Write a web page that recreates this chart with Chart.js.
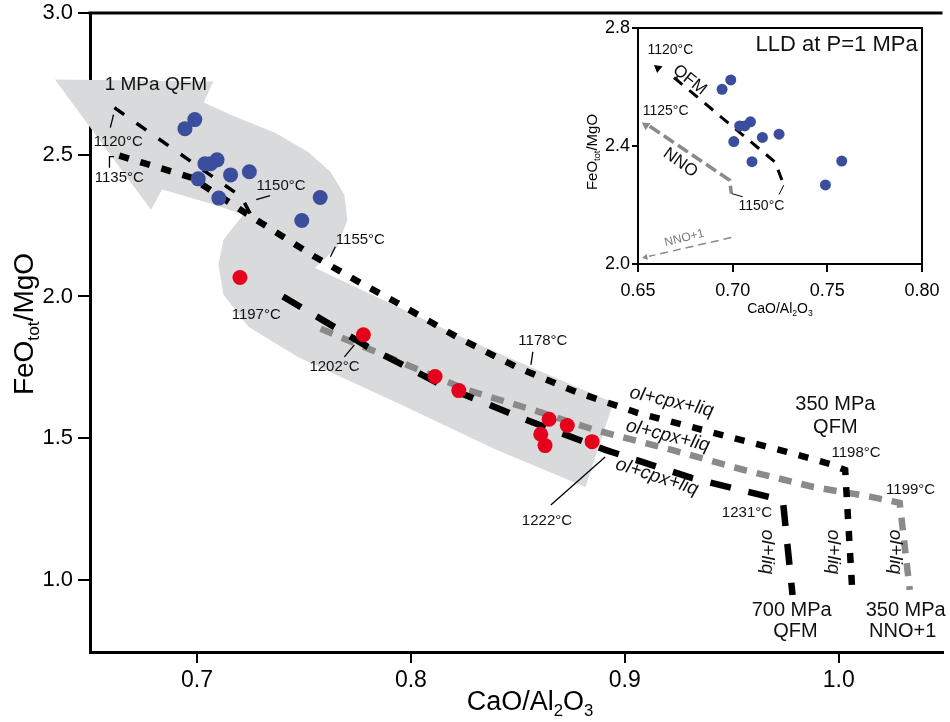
<!DOCTYPE html>
<html>
<head>
<meta charset="utf-8">
<script src="https://cdn.jsdelivr.net/npm/chart.js@4.4.0/dist/chart.umd.min.js"></script>
<style>
  html, body { margin: 0; padding: 0; background: #fff; }
  #wrap { position: relative; width: 950px; height: 722px; overflow: hidden; }
  #main { position: absolute; left: 0; top: 0; }
  #inset { position: absolute; left: 570px; top: 20px; }
</style>
</head>
<body>
<div id="wrap">
  <canvas id="main" width="950" height="722"></canvas>
  <canvas id="inset" width="370" height="300"></canvas>
</div>
<script>
// glass analyses, 1 MPa experiments (blue) and the other run products (red)
const blueX = [0.6944, 0.699, 0.7006, 0.7037, 0.7064, 0.7094, 0.7102, 0.7157, 0.7245, 0.749, 0.7576];
const blueY = [2.592, 2.624, 2.415, 2.468, 2.468, 2.482, 2.347, 2.429, 2.440, 2.268, 2.349];
const redX = [0.7201, 0.7778, 0.8113, 0.8224, 0.8646, 0.8731, 0.8607, 0.8627, 0.8847];
const redY = [2.067, 1.865, 1.718, 1.668, 1.567, 1.545, 1.514, 1.474, 1.488];

// liquid lines of descent
const qfm1X = [0.6614, 0.7207, 0.7249];
const qfm1Y = [2.666, 2.352, 2.292];
const qfm350X = [0.6637, 0.6975, 0.724, 0.7549, 0.7764, 0.7935, 0.8213, 0.8491, 0.877, 0.9062, 0.9451, 0.9757, 0.9961, 1.003, 1.0063];
const qfm350Y = [2.497, 2.419, 2.288, 2.141, 2.048, 1.978, 1.858, 1.752, 1.664, 1.589, 1.512, 1.452, 1.409, 1.388, 0.965];
const qfm700X = [0.7402, 0.7796, 0.8158, 0.8538, 0.8909, 0.9312, 0.9696, 0.974, 0.9784];
const qfm700Y = [2.0, 1.8235, 1.682, 1.565, 1.459, 1.360, 1.289, 1.272, 0.947];
const nno350X = [0.7578, 0.7903, 0.826, 0.857, 0.8862, 0.9219, 0.9558, 0.9882, 1.0146, 1.0285, 1.0332];
const nno350Y = [1.886, 1.7836, 1.6707, 1.600, 1.529, 1.459, 1.388, 1.328, 1.294, 1.272, 0.965];

// grey trend arrow outline
const bandX = [0.6336, 0.7077, 0.7031, 0.7179, 0.7365, 0.7518, 0.7624, 0.7689, 0.7703, 0.7657, 0.7551, 0.8246, 0.8946, 0.8816, 0.8399, 0.7935, 0.7471, 0.7241, 0.7124, 0.7100, 0.7124, 0.7179, 0.7217, 0.7087, 0.6837, 0.6785];
const bandY = [2.765, 2.758, 2.684, 2.634, 2.578, 2.511, 2.440, 2.359, 2.271, 2.175, 2.101, 1.854, 1.625, 1.328, 1.459, 1.625, 1.787, 1.893, 2.006, 2.112, 2.200, 2.253, 2.288, 2.323, 2.377, 2.306];

// inset lines (1 MPa)
const inQfmX = [0.669, 0.7225, 0.727];
const inQfmY = [2.632, 2.345, 2.267];
const inNnoX = [0.6562, 0.6984, 0.6993];
const inNnoY = [2.467, 2.284, 2.239];
const inNno1X = [0.6993, 0.6558];
const inNno1Y = [2.0898, 2.026];

const xTicks = [0.7, 0.8, 0.9, 1.0];
const yTicks = [1.0, 1.5, 2.0, 2.5, 3.0];
const inXTicks = [0.65, 0.70, 0.75, 0.80];
const inYTicks = [2.0, 2.4, 2.8];

const FONT = "'Liberation Sans', Arial, sans-serif";

function pts(xs, ys) { return xs.map((x, i) => ({ x: x, y: ys[i] })); }

function seg(xs, ys, color, width, dash) {
  return {
    data: pts(xs, ys), showLine: true, pointRadius: 0, borderColor: color,
    borderWidth: width, borderDash: dash, borderCapStyle: 'butt', tension: 0
  };
}

function dots(xs, ys, color, r) {
  return { data: pts(xs, ys), showLine: false, pointRadius: r, backgroundColor: color, borderWidth: 0 };
}

function drawRich(ctx, parts, x, y, size, rot, family, color) {
  ctx.save();
  ctx.translate(x, y);
  ctx.rotate(rot * Math.PI / 180);
  ctx.fillStyle = color || '#000';
  ctx.textBaseline = 'middle';
  ctx.textAlign = 'left';
  let w = 0;
  parts.forEach(p => {
    ctx.font = (p.sub ? size * 0.62 : size) + 'px ' + family;
    w += ctx.measureText(p.t).width;
  });
  let cx = -w / 2;
  parts.forEach(p => {
    const s = p.sub ? size * 0.62 : size;
    ctx.font = s + 'px ' + family;
    ctx.fillText(p.t, cx, p.sub ? size * 0.32 : 0);
    cx += ctx.measureText(p.t).width;
  });
  ctx.restore();
}

// text annotations, placed in data units
const notes = [
  { t: '1 MPa QFM', x: 0.6808, y: 2.7473, s: 19 },
  { t: '1120°C', x: 0.6632, y: 2.546, s: 15 },
  { t: '1135°C', x: 0.6637, y: 2.419, s: 15 },
  { t: '1150°C', x: 0.7393, y: 2.3896, s: 15 },
  { t: '1155°C', x: 0.7764, y: 2.2001, s: 15 },
  { t: '1197°C', x: 0.7277, y: 1.9354, s: 15 },
  { t: '1202°C', x: 0.7643, y: 1.7519, s: 15 },
  { t: '1178°C', x: 0.8617, y: 1.8436, s: 15 },
  { t: '1222°C', x: 0.8636, y: 1.2083, s: 15 },
  { t: '1231°C', x: 0.9571, y: 1.2365, s: 15 },
  { t: '1198°C', x: 1.0081, y: 1.4483, s: 15 },
  { t: '1199°C', x: 1.0336, y: 1.3177, s: 15 },
  { t: '350 MPa', x: 0.9984, y: 1.6177, s: 20 },
  { t: 'QFM', x: 0.9984, y: 1.5365, s: 20 },
  { t: '700 MPa', x: 0.978, y: 0.8941, s: 20 },
  { t: 'QFM', x: 0.9798, y: 0.82, s: 20 },
  { t: '350 MPa', x: 1.0313, y: 0.8941, s: 20 },
  { t: 'NNO+1', x: 1.0299, y: 0.82, s: 20 },
  { t: 'ol+cpx+liq', x: 0.9219, y: 1.6283, s: 19, r: 13, it: true },
  { t: 'ol+cpx+liq', x: 0.9201, y: 1.5083, s: 19, r: 14, it: true },
  { t: 'ol+cpx+liq', x: 0.915, y: 1.3636, s: 19, r: 18, it: true },
  { t: 'ol+liq', x: 0.9664, y: 1.0988, s: 19, r: 90, it: true },
  { t: 'ol+liq', x: 0.9974, y: 1.0988, s: 19, r: 90, it: true },
  { t: 'ol+liq', x: 1.0262, y: 1.0988, s: 19, r: 90, it: true }
];

const inNotes = [
  { t: 'LLD at P=1 MPa', x: 0.7977, y: 2.742, s: 22, a: 'right' },
  { t: '1120°C', x: 0.6671, y: 2.725, s: 14 },
  { t: '1125°C', x: 0.6646, y: 2.519, s: 14 },
  { t: 'QFM', x: 0.6773, y: 2.624, s: 17, r: 39 },
  { t: 'NNO', x: 0.6724, y: 2.343, s: 17, r: 36 },
  { t: '1150°C', x: 0.7152, y: 2.197, s: 14 },
  { t: 'NNO+1', x: 0.6745, y: 2.088, s: 12, r: -14, c: '#777' }
];

function noteDrawer(list) {
  return function (chart) {
    const ctx = chart.ctx, xs = chart.scales.x, ys = chart.scales.y;
    list.forEach(n => {
      ctx.save();
      ctx.translate(xs.getPixelForValue(n.x), ys.getPixelForValue(n.y));
      ctx.rotate((n.r || 0) * Math.PI / 180);
      ctx.font = (n.it ? 'italic ' : '') + n.s + 'px ' + FONT;
      ctx.fillStyle = n.c || '#111';
      ctx.textAlign = n.a || 'center';
      ctx.textBaseline = 'middle';
      ctx.fillText(n.t, 0, 0);
      ctx.restore();
    });
  };
}

const thin = '#000';
const mainLeaders = [
  seg([0.6595, 0.6610], [2.5955, 2.6413], thin, 1.3, []),
  seg([0.6591, 0.6591, 0.6612], [2.4543, 2.4931, 2.4931], thin, 1.3, []),
  seg([0.7277, 0.7342], [2.3413, 2.3555], thin, 1.3, []),
  seg([0.7624, 0.7647], [2.140, 2.1755], thin, 1.3, []),
  seg([0.7736, 0.7689], [1.8295, 1.787], thin, 1.3, []),
  seg([0.857, 0.8561], [1.8048, 1.7589], thin, 1.3, []),
  seg([0.8908, 0.8654], [1.4342, 1.2647], thin, 1.3, [])
];

new Chart(document.getElementById('main').getContext('2d'), {
  type: 'scatter',
  data: {
    datasets: [
      dots(blueX, blueY, '#3b4e9d', 7.5),
      dots(redX, redY, '#e5001c', 7.5),
      seg(qfm1X, qfm1Y, '#000', 3.5, [12, 15]),
      seg(qfm350X, qfm350Y, '#000', 6.5, [10, 12]),
      seg(qfm700X, qfm700Y, '#000', 6.5, [21, 18]),
      seg(nno350X, nno350Y, '#8a8a8a', 6.5, [13, 10])
    ].concat(mainLeaders)
  },
  options: {
    responsive: false,
    animation: false,
    events: [],
    layout: { padding: { top: 13, left: 0, right: 0, bottom: 0 } },
    plugins: { legend: { display: false }, tooltip: { enabled: false } },
    scales: {
      x: {
        type: 'linear', min: 0.65, max: 1.0485, z: 1,
        border: { color: '#000', width: 3 },
        grid: { drawOnChartArea: false, tickLength: 11, color: '#000', lineWidth: 2 },
        ticks: { color: '#000', padding: 4, font: { family: "'Liberation Sans Narrow', 'Liberation Sans', Arial", size: 23 },
                 callback: v => v.toFixed(1) },
        afterBuildTicks: s => { s.ticks = xTicks.map(v => ({ value: v })); },
        afterFit: s => { s.height = 70; s.paddingLeft = 0; s.paddingRight = 0; }
      },
      y: {
        type: 'linear', min: 0.746, max: 3.0, z: 1,
        border: { color: '#000', width: 3 },
        grid: { drawOnChartArea: false, tickLength: 12, color: '#000', lineWidth: 2 },
        ticks: { color: '#000', padding: 5, font: { family: FONT, size: 22 },
                 callback: v => v.toFixed(1) },
        afterBuildTicks: s => { s.ticks = yTicks.map(v => ({ value: v })); },
        afterFit: s => { s.width = 90; s.paddingTop = 0; s.paddingBottom = 0; }
      }
    }
  },
  plugins: [{
    id: 'band',
    beforeDatasetsDraw(chart) {
      const ctx = chart.ctx, xs = chart.scales.x, ys = chart.scales.y;
      ctx.save();
      ctx.beginPath();
      bandX.forEach((x, i) => {
        const px = xs.getPixelForValue(x), py = ys.getPixelForValue(bandY[i]);
        if (i === 0) ctx.moveTo(px, py); else ctx.lineTo(px, py);
      });
      ctx.closePath();
      ctx.fillStyle = '#d9dadb';
      ctx.fill();
      ctx.restore();
    },
    afterDatasetsDraw: noteDrawer(notes),
    afterDraw(chart) {
      const ctx = chart.ctx, a = chart.chartArea;
      ctx.save();
      ctx.strokeStyle = '#000';
      ctx.lineWidth = 3;
      ctx.beginPath();
      ctx.moveTo(a.left - 1.5, a.top);
      ctx.lineTo(a.right, a.top);
      ctx.stroke();
      ctx.restore();
      drawRich(ctx, [{ t: 'CaO/Al' }, { t: '2', sub: true }, { t: 'O' }, { t: '3', sub: true }], 530, 703, 27, 0, FONT);
      drawRich(ctx, [{ t: 'FeO' }, { t: 'tot', sub: true }, { t: '/MgO' }], 25, 324, 28, -90, FONT);
    }
  }]
});

new Chart(document.getElementById('inset').getContext('2d'), {
  type: 'scatter',
  data: {
    datasets: [
      dots(blueX, blueY, '#3b4e9d', 5.5),
      seg(inQfmX, inQfmY, '#000', 3, [11, 9]),
      seg(inNnoX, inNnoY, '#8a8a8a', 3.5, [12, 5]),
      seg(inNno1X, inNno1Y, '#8a8a8a', 1.5, [8, 5]),
      seg([0.6993, 0.7053], [2.239, 2.228], '#000', 1, []),
      seg([0.727, 0.7245], [2.267, 2.236], '#000', 1, []),
      { data: [{ x: 0.6605, y: 2.664 }], pointStyle: 'triangle', rotation: -51, pointRadius: 5, backgroundColor: '#000', borderWidth: 0 },
      { data: [{ x: 0.6542, y: 2.470 }], pointStyle: 'triangle', rotation: -56, pointRadius: 5, backgroundColor: '#8a8a8a', borderWidth: 0 },
      { data: [{ x: 0.6540, y: 2.023 }], pointStyle: 'triangle', rotation: 257, pointRadius: 3.5, backgroundColor: '#8a8a8a', borderWidth: 0 }
    ]
  },
  options: {
    responsive: false,
    animation: false,
    events: [],
    layout: { padding: { top: 8, left: 0, right: 18, bottom: 0 } },
    plugins: { legend: { display: false }, tooltip: { enabled: false } },
    scales: {
      x: {
        type: 'linear', min: 0.65, max: 0.80,
        border: { color: '#000', width: 2 },
        grid: { drawOnChartArea: false, tickLength: 8, color: '#000', lineWidth: 2 },
        ticks: { color: '#000', padding: 8, font: { family: FONT, size: 18 }, callback: v => v.toFixed(2) },
        afterBuildTicks: s => { s.ticks = inXTicks.map(v => ({ value: v })); },
        afterFit: s => { s.height = 56; s.paddingLeft = 0; s.paddingRight = 0; }
      },
      y: {
        type: 'linear', min: 2.0, max: 2.8,
        border: { color: '#000', width: 2 },
        grid: { drawOnChartArea: false, tickLength: 6, color: '#000', lineWidth: 2 },
        ticks: { color: '#000', padding: 2, font: { family: FONT, size: 18 }, callback: v => v.toFixed(1) },
        afterBuildTicks: s => { s.ticks = inYTicks.map(v => ({ value: v })); },
        afterFit: s => { s.width = 68; s.paddingTop = 0; s.paddingBottom = 0; }
      }
    }
  },
  plugins: [{
    id: 'insetFrame',
    beforeDraw(chart) {
      const ctx = chart.ctx;
      ctx.save();
      ctx.fillStyle = '#fff';
      ctx.fillRect(0, 0, chart.width, chart.height);
      ctx.restore();
    },
    afterDatasetsDraw: noteDrawer(inNotes),
    afterDraw(chart) {
      const ctx = chart.ctx, a = chart.chartArea;
      ctx.save();
      ctx.strokeStyle = '#000';
      ctx.lineWidth = 2;
      ctx.strokeRect(a.left, a.top, a.right - a.left, a.bottom - a.top);
      ctx.restore();
      drawRich(ctx, [{ t: 'CaO/Al' }, { t: '2', sub: true }, { t: 'O' }, { t: '3', sub: true }], 210, 289, 14, 0, FONT);
      drawRich(ctx, [{ t: 'FeO' }, { t: 'tot', sub: true }, { t: '/MgO' }], 23, 132, 15, -90, FONT);
    }
  }]
});
</script>
</body>
</html>
